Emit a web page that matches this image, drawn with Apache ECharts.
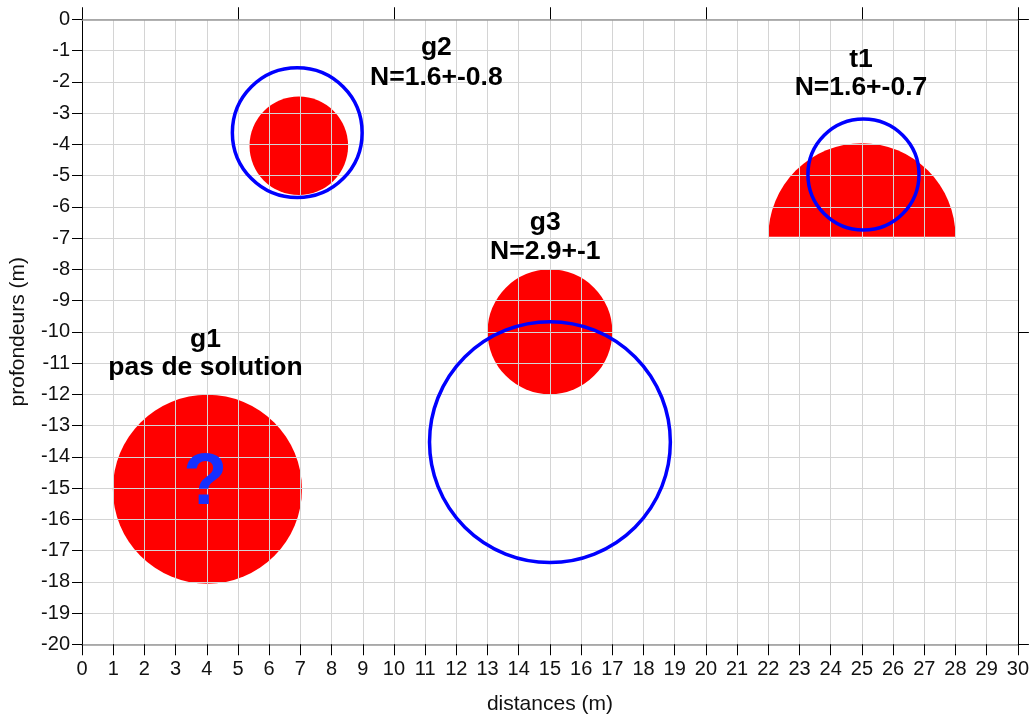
<!DOCTYPE html>
<html>
<head>
<meta charset="utf-8">
<style>
  html, body { margin: 0; padding: 0; background: #fff; }
  #chart { width: 1032px; height: 720px; }
</style>
<script src="https://cdn.jsdelivr.net/npm/echarts@6/dist/echarts.min.js"></script>
</head>
<body>
<div id="chart"></div>
<script>
// Anomaly zones (red): centre x, centre depth, radius in metres
const redCircleX = [4.02, 6.95, 15];
const redCircleY = [-15.04, -4.05, -10];
const redCircleR = [3.03, 1.58, 2.0];

// Half-disc zone (red), flat side at its centre depth
const redHalfX = [25];
const redHalfY = [-6.96];
const redHalfR = [3.0];

// Inverted source positions (blue outlines)
const blueCircleX = [6.9, 15, 25.05];
const blueCircleY = [-3.63, -13.53, -4.97];
const blueCircleR = [2.08, 3.86, 1.78];

// Zone annotations: name line and result line
const labelName = ['g2', 't1', 'g3', 'g1'];
const labelResult = ['N=1.6+-0.8', 'N=1.6+-0.7', 'N=2.9+-1', 'pas de solution'];
const labelX = [11.36, 24.97, 14.85, 3.96];
const labelNameY = [-0.92, -1.29, -6.52, -10.25];
const labelResultY = [-1.88, -2.2, -7.43, -11.16];

// Unresolved zone marker
const markText = ['?'];
const markX = [3.95];
const markY = [-14.88];

// Axis ranges
const xRange = [0, 30];
const yRange = [-20, 0];

const FONT = "'Liberation Sans', Arial, Helvetica, sans-serif";

const redCircles = redCircleX.map((x, i) => [x, redCircleY[i], redCircleR[i]]);
const redHalves = redHalfX.map((x, i) => [x, redHalfY[i], redHalfR[i]]);
const blueCircles = blueCircleX.map((x, i) => [x, blueCircleY[i], blueCircleR[i]]);
const labels = labelX.map((x, i) => [x, labelNameY[i], labelResultY[i], labelName[i], labelResult[i]]);
const marks = markX.map((x, i) => [x, markY[i], markText[i]]);

const chart = echarts.init(document.getElementById('chart'), null, { renderer: 'canvas' });

function radiusPx(api, r) {
  return api.size([r, 0])[0];
}

const option = {
  animation: false,
  backgroundColor: '#ffffff',
  textStyle: { fontFamily: FONT },
  grid: { left: 82, right: 12.5, top: 19.25, bottom: 75.75, containLabel: false },
  xAxis: [
    {
      type: 'value', position: 'bottom', min: xRange[0], max: xRange[1], interval: 1,
      axisLine: { show: true, onZero: false, lineStyle: { color: '#999999', width: 1.5 } },
      axisTick: { show: true, length: 11, lineStyle: { color: '#000000', width: 1 } },
      axisLabel: { fontSize: 20, color: '#111111', margin: 15, fontFamily: FONT },
      splitLine: { show: true, lineStyle: { color: '#d4d4d4', width: 1 } },
      name: 'distances (m)', nameLocation: 'middle', nameGap: 49,
      nameTextStyle: { fontSize: 21, color: '#111111', fontFamily: FONT }
    },
    {
      type: 'value', position: 'top', min: xRange[0], max: xRange[1], interval: 5,
      axisLine: { show: true, onZero: false, lineStyle: { color: '#999999', width: 1.5 } },
      axisTick: { show: true, length: 12, lineStyle: { color: '#000000', width: 1 } },
      axisLabel: { show: false },
      splitLine: { show: false }
    }
  ],
  yAxis: [
    {
      type: 'value', position: 'left', min: yRange[0], max: yRange[1], interval: 1,
      axisLine: { show: true, onZero: false, lineStyle: { color: '#000000', width: 1 } },
      axisTick: { show: true, length: 10, lineStyle: { color: '#000000', width: 1 } },
      axisLabel: { fontSize: 20, color: '#111111', margin: 12, fontFamily: FONT },
      splitLine: { show: true, lineStyle: { color: '#d4d4d4', width: 1 } },
      name: 'profondeurs (m)', nameLocation: 'middle', nameGap: 53, nameRotate: 90,
      nameTextStyle: { fontSize: 21, color: '#111111', fontFamily: FONT }
    },
    {
      type: 'value', position: 'right', min: yRange[0], max: yRange[1], interval: 10,
      axisLine: { show: true, onZero: false, lineStyle: { color: '#000000', width: 1 } },
      axisTick: { show: true, length: 11, lineStyle: { color: '#000000', width: 1 } },
      axisLabel: { show: false },
      splitLine: { show: false }
    }
  ],
  series: [
    {
      // filled anomaly discs, kept beneath the grid lines
      type: 'custom', name: 'zones', z: -1, silent: true, clip: false,
      data: redCircles,
      renderItem: function (params, api) {
        const c = api.coord([api.value(0), api.value(1)]);
        return {
          type: 'circle',
          shape: { cx: c[0], cy: c[1], r: radiusPx(api, api.value(2)) },
          style: { fill: '#ff0000' }
        };
      }
    },
    {
      // upper half disc (t1)
      type: 'custom', name: 'demi-zone', z: -1, silent: true, clip: false,
      data: redHalves,
      renderItem: function (params, api) {
        const c = api.coord([api.value(0), api.value(1)]);
        return {
          type: 'sector',
          shape: { cx: c[0], cy: c[1], r0: 0, r: radiusPx(api, api.value(2)), startAngle: Math.PI, endAngle: 2 * Math.PI, clockwise: true },
          style: { fill: '#ff0000' }
        };
      }
    },
    {
      // blue source outlines
      type: 'custom', name: 'sources', z: 3, silent: true, clip: false,
      data: blueCircles,
      renderItem: function (params, api) {
        const c = api.coord([api.value(0), api.value(1)]);
        return {
          type: 'circle',
          shape: { cx: c[0], cy: c[1], r: radiusPx(api, api.value(2)) },
          style: { fill: 'none', stroke: '#0000ff', lineWidth: 3.5 }
        };
      }
    },
    {
      // zone names and results
      type: 'custom', name: 'labels', z: 4, silent: true, clip: false,
      data: labels,
      renderItem: function (params, api) {
        const d = labels[params.dataIndex];
        const p1 = api.coord([d[0], d[1]]);
        const p2 = api.coord([d[0], d[2]]);
        const st = { fill: '#000000', font: "bold 26.5px " + FONT, align: 'center', verticalAlign: 'middle' };
        return {
          type: 'group',
          children: [
            { type: 'text', x: p1[0], y: p1[1], style: Object.assign({ text: d[3] }, st) },
            { type: 'text', x: p2[0], y: p2[1], style: Object.assign({ text: d[4] }, st) }
          ]
        };
      }
    },
    {
      // unresolved marker
      type: 'custom', name: 'marks', z: 4, silent: true, clip: false,
      data: marks,
      renderItem: function (params, api) {
        const d = marks[params.dataIndex];
        const p = api.coord([d[0], d[1]]);
        return {
          type: 'text', x: p[0], y: p[1],
          style: { text: d[2], fill: '#1530ff', font: "bold 72px " + FONT, align: 'center', verticalAlign: 'middle' }
        };
      }
    }
  ]
};

chart.setOption(option);
</script>
</body>
</html>
